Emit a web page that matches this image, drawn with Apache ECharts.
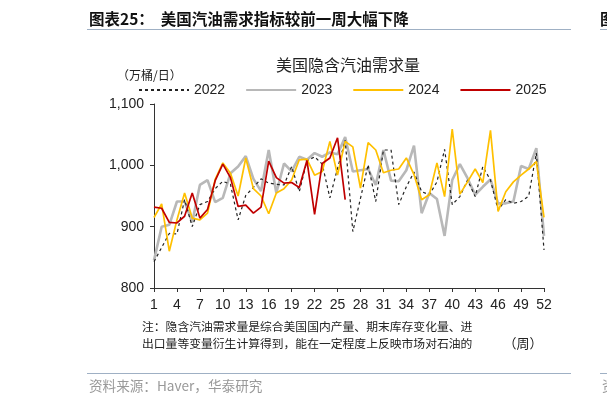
<!DOCTYPE html>
<html>
<head>
<meta charset="utf-8">
<script src="https://cdn.jsdelivr.net/npm/echarts@6/dist/echarts.min.js"></script>
<style>
  html, body { margin: 0; padding: 0; background: #fff; }
  #chart { width: 607px; height: 403px; }
</style>
</head>
<body>
<div id="chart"></div>
<script>
// 周次
var weeks = [1, 2, 3, 4, 5, 6, 7, 8, 9, 10, 11, 12, 13, 14, 15, 16, 17, 18, 19, 20,
  21, 22, 23, 24, 25, 26, 27, 28, 29, 30, 31, 32, 33, 34, 35, 36, 37, 38, 39, 40,
  41, 42, 43, 44, 45, 46, 47, 48, 49, 50, 51, 52];

// 美国隐含汽油需求量（万桶/日）
var y2022 = [843, 866, 889, 888, 944, 900, 936, 941, 962, 974, 969, 911, 951, 964, 978, 971, 969, 968, 998, 957,
  1007, 1014, 1002, 947, 995, 1041, 892, 946, 1001, 941, 1025, 1025, 936, 965, 989, 957, 952, 973, 1026, 936,
  949, 976, 949, 998, 976, 927, 944, 938, 941, 950, 1020, 862];
var y2023 = [845, 900, 903, 941, 941, 907, 968, 976, 940, 947, 987, 998, 1015, 978, 958, 1025, 955, 1003, 990, 1014,
  1009, 1020, 1014, 1021, 1018, 1046, 990, 992, 994, 968, 1025, 975, 974, 992, 1032, 922, 955, 945, 885, 976,
  1002, 979, 952, 965, 977, 938, 938, 941, 999, 994, 1028, 885];
var y2024 = [915, 937, 860, 911, 955, 914, 911, 922, 977, 1004, 987, 950, 1012, 962, 950, 921, 955, 962, 976, 1009,
  1010, 984, 990, 1039, 984, 1039, 1030, 963, 1037, 1025, 988, 992, 994, 1012, 985, 944, 952, 1004, 949, 1059,
  953, 973, 994, 972, 1057, 925, 957, 973, 984, 994, 1006, 915];
var y2025 = [932, 930, 907, 906, 917, 955, 914, 928, 975, 1002, 980, 933, 935, 922, 932, 1007, 980, 971, 972, 964,
  1008, 920, 1003, 1012, 1045, 944];

var yTicks = [800, 900, 1000, 1100];

var cjk = '"Noto Sans CJK SC", sans-serif';
var latin = '"Liberation Sans", Arial, sans-serif';

var chart = echarts.init(document.getElementById('chart'));

var option = {
  animation: false,
  backgroundColor: '#fff',
  grid: { left: 154, right: 63, top: 104, bottom: 115 },
  legend: {
    left: 138,
    top: 83,
    padding: 0,
    itemWidth: 50,
    itemHeight: 14,
    itemGap: 20,
    data: ['2022', '2023', '2024', '2025'],
    itemStyle: { opacity: 0 },
    textStyle: { fontFamily: latin, fontSize: 14, color: '#222' }
  },
  xAxis: {
    type: 'category',
    data: weeks,
    boundaryGap: false,
    axisLine: { lineStyle: { color: '#333', width: 1 } },
    axisTick: { interval: 2, length: 4, lineStyle: { color: '#333' } },
    axisLabel: { interval: 2, margin: 10, fontFamily: latin, fontSize: 14, color: '#222' }
  },
  yAxis: {
    type: 'value',
    min: yTicks[0],
    max: yTicks[yTicks.length - 1],
    interval: 100,
    splitLine: { show: false },
    axisLine: { show: true, lineStyle: { color: '#333', width: 1 } },
    axisTick: { show: true, length: 4, lineStyle: { color: '#333' } },
    axisLabel: {
      margin: 10, fontFamily: latin, fontSize: 14, color: '#222',
      formatter: function (v) { return v.toLocaleString('en-US'); }
    }
  },
  series: [
    {
      name: '2022', type: 'line', data: y2022, symbol: 'none', z: 3,
      lineStyle: { color: '#222', width: 1.2, type: [3, 3] },
      itemStyle: { color: '#222' }
    },
    {
      name: '2023', type: 'line', data: y2023, symbol: 'none', z: 2,
      lineStyle: { color: '#b8b8b8', width: 2.6 },
      itemStyle: { color: '#b8b8b8' }
    },
    {
      name: '2024', type: 'line', data: y2024, symbol: 'none', z: 4,
      lineStyle: { color: '#ffc000', width: 1.7 },
      itemStyle: { color: '#ffc000' }
    },
    {
      name: '2025', type: 'line', data: y2025, symbol: 'none', z: 5,
      lineStyle: { color: '#c00000', width: 1.7 },
      itemStyle: { color: '#c00000' }
    }
  ],
  graphic: [
    { type: 'text', left: 89, top: 11, style: { text: '图表25：  美国汽油需求指标较前一周大幅下降', font: 'bold 15.5px ' + cjk, fill: '#111' } },
    { type: 'line', shape: { x1: 87, y1: 29.5, x2: 571, y2: 29.5 }, style: { stroke: '#9fb0c4', lineWidth: 1 } },
    { type: 'text', left: 600, top: 11, style: { text: '图', font: 'bold 15.5px ' + cjk, fill: '#111' } },
    { type: 'line', shape: { x1: 600, y1: 29.5, x2: 610, y2: 29.5 }, style: { stroke: '#9fb0c4', lineWidth: 1 } },
    { type: 'text', x: 348, y: 65, style: { text: '美国隐含汽油需求量', font: '16px ' + cjk, fill: '#222', align: 'center', verticalAlign: 'middle' } },
    { type: 'text', x: 117, y: 75, style: { text: '（万桶/日）', font: '12px ' + cjk, fill: '#222', verticalAlign: 'middle' } },
    { type: 'text', x: 142, y: 327, style: { text: '注：隐含汽油需求量是综合美国国内产量、期末库存变化量、进', font: '11.8px ' + cjk, fill: '#222', verticalAlign: 'middle' } },
    { type: 'text', x: 142, y: 343.5, style: { text: '出口量等变量衍生计算得到，能在一定程度上反映市场对石油的', font: '11.8px ' + cjk, fill: '#222', verticalAlign: 'middle' } },
    { type: 'text', x: 523, y: 343, style: { text: '（周）', font: '13px ' + cjk, fill: '#222', align: 'center', verticalAlign: 'middle' } },
    { type: 'line', shape: { x1: 87, y1: 373.5, x2: 571, y2: 373.5 }, style: { stroke: '#9fb0c4', lineWidth: 1 } },
    { type: 'line', shape: { x1: 600, y1: 373.5, x2: 610, y2: 373.5 }, style: { stroke: '#9fb0c4', lineWidth: 1 } },
    { type: 'text', x: 89, y: 386, style: { text: '资料来源：Haver，华泰研究', font: '13.6px ' + cjk, fill: '#999', verticalAlign: 'middle' } },
    { type: 'text', x: 602, y: 386, style: { text: '资', font: '13.6px ' + cjk, fill: '#999', verticalAlign: 'middle' } }
  ]
};

chart.setOption(option);
</script>
</body>
</html>
